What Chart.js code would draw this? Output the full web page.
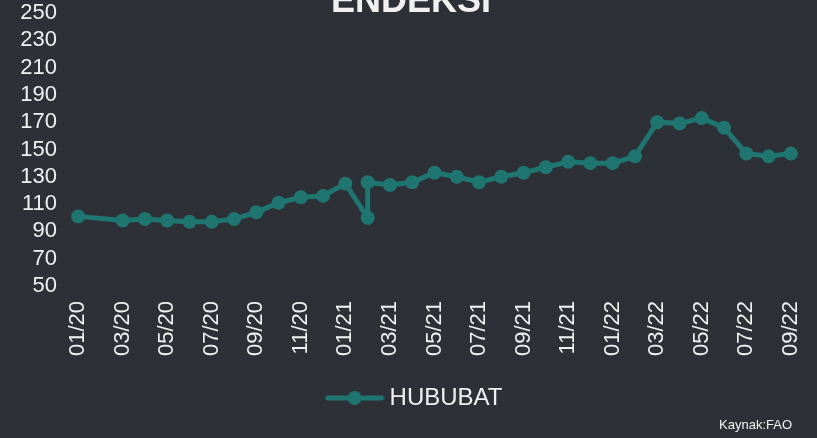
<!DOCTYPE html>
<html>
<head>
<meta charset="utf-8">
<script src="https://cdn.jsdelivr.net/npm/chart.js@4.4.0/dist/chart.umd.min.js"></script>
<style>
  html, body { margin: 0; padding: 0; background: #2d3037; }
  #wrap { width: 817px; height: 438px; position: relative; }
</style>
</head>
<body>
<div id="wrap"><canvas id="hububatChart" width="817" height="438"></canvas></div>
<script>
// Data
const months = [
  "01/20", "03/20", "04/20", "05/20", "06/20", "07/20", "08/20", "09/20",
  "10/20", "11/20", "12/20", "01/21", "02/21", "02/21", "03/21", "04/21",
  "05/21", "06/21", "07/21", "08/21", "09/21", "10/21", "11/21", "12/21",
  "01/22", "02/22", "03/22", "04/22", "05/22", "06/22", "07/22", "08/22",
  "09/22",
];
const hububat = [
  101, 98, 99, 98, 97, 97, 99, 104,
  111, 115, 116, 125, 100, 126, 124, 126,
  133, 130, 126, 130, 133, 137, 141, 140,
  140, 145, 170, 169, 173, 166, 147, 145,
  147,
];
const tickLabels = [
  "01/20", "03/20", "05/20", "07/20", "09/20", "11/20", "01/21", "03/21",
  "05/21", "07/21", "09/21", "11/21", "01/22", "03/22", "05/22", "07/22",
  "09/22",
];
const yTicks = [50, 70, 90, 110, 130, 150, 170, 190, 210, 230, 250];

const TEAL = "#1f7670";
const TEXT = "#f0f0f0";
const FONT = "'Liberation Sans', Arial, sans-serif";

// "MM/YY" -> month index from 01/20
function monthIndex(label) {
  const [m, y] = label.split("/").map(Number);
  return (y - 20) * 12 + (m - 1);
}
function monthLabel(idx) {
  const m = (idx % 12) + 1;
  const y = 20 + Math.floor(idx / 12);
  return String(m).padStart(2, "0") + "/" + y;
}

// legend marker: line with a dot
function legendMarker() {
  const c = document.createElement("canvas");
  c.width = 60;
  c.height = 16;
  const g = c.getContext("2d");
  g.strokeStyle = TEAL;
  g.lineWidth = 5;
  g.lineCap = "round";
  g.beginPath();
  g.moveTo(3, 8);
  g.lineTo(57, 8);
  g.stroke();
  g.fillStyle = TEAL;
  g.beginPath();
  g.arc(30, 8, 7, 0, Math.PI * 2);
  g.fill();
  return c;
}

const extraText = {
  id: "extraText",
  afterLayout(chart) {
    // nudge legend a bit to the right, like the original
    chart.legend.left += 11;
    chart.legend.right += 11;
  },
  afterDraw(chart) {
    const ctx = chart.ctx;
    ctx.save();
    ctx.fillStyle = TEXT;
    ctx.font = "bold 36px " + FONT;
    ctx.textAlign = "center";
    ctx.textBaseline = "alphabetic";
    ctx.fillText("ENDEKSİ", 411, 12);
    ctx.font = "13px " + FONT;
    ctx.textAlign = "right";
    ctx.textBaseline = "middle";
    ctx.fillText("Kaynak:FAO", 792, 425);
    ctx.restore();
  },
};

const legendHeight = {
  id: "legendHeight",
  beforeInit(chart) {
    const fitValue = chart.legend.fit;
    chart.legend.fit = function fit() {
      fitValue.bind(chart.legend)();
      this.height = 62;
    };
  },
};

const ctx = document.getElementById("hububatChart").getContext("2d");
let hububatChart = new Chart(ctx, {
  type: "line",
  data: {
    datasets: [
      {
        label: "HUBUBAT",
        data: months.map((m, i) => ({ x: monthIndex(m), y: hububat[i] })),
        borderColor: TEAL,
        backgroundColor: TEAL,
        pointBackgroundColor: TEAL,
        pointBorderWidth: 0,
        pointRadius: 7,
        borderWidth: 5,
        tension: 0,
        fill: false,
      },
    ],
  },
  options: {
    responsive: false,
    animation: false,
    layout: { padding: { top: 13, bottom: 8, left: 10, right: 15 } },
    plugins: {
      tooltip: { enabled: false },
      legend: {
        position: "bottom",
        labels: {
          usePointStyle: true,
          pointStyle: legendMarker(),
          pointStyleWidth: 46,
          boxHeight: 16,
          padding: 18,
          color: TEXT,
          font: { family: FONT, size: 24 },
        },
      },
    },
    scales: {
      x: {
        type: "linear",
        min: -0.5,
        max: 32.5,
        grid: { display: false, drawTicks: false },
        border: { display: false },
        afterBuildTicks(scale) {
          scale.ticks = tickLabels.map((t) => ({ value: monthIndex(t) }));
        },
        afterFit(scale) {
          scale.height = 82;
          scale.paddingLeft = 0;
          scale.paddingRight = 0;
        },
        ticks: {
          autoSkip: false,
          minRotation: 90,
          maxRotation: 90,
          padding: 15,
          color: TEXT,
          font: { family: FONT, size: 22 },
          callback: (v) => monthLabel(v),
        },
      },
      y: {
        min: 50,
        max: 250,
        grid: { display: false, drawTicks: false },
        border: { display: false },
        afterBuildTicks(scale) {
          scale.ticks = yTicks.map((v) => ({ value: v }));
        },
        afterFit(scale) {
          scale.width = 57;
          scale.paddingTop = 0;
          scale.paddingBottom = 0;
        },
        ticks: {
          autoSkip: false,
          padding: 10,
          color: TEXT,
          font: { family: FONT, size: 22 },
        },
      },
    },
  },
  plugins: [extraText, legendHeight],
});
</script>
</body>
</html>
